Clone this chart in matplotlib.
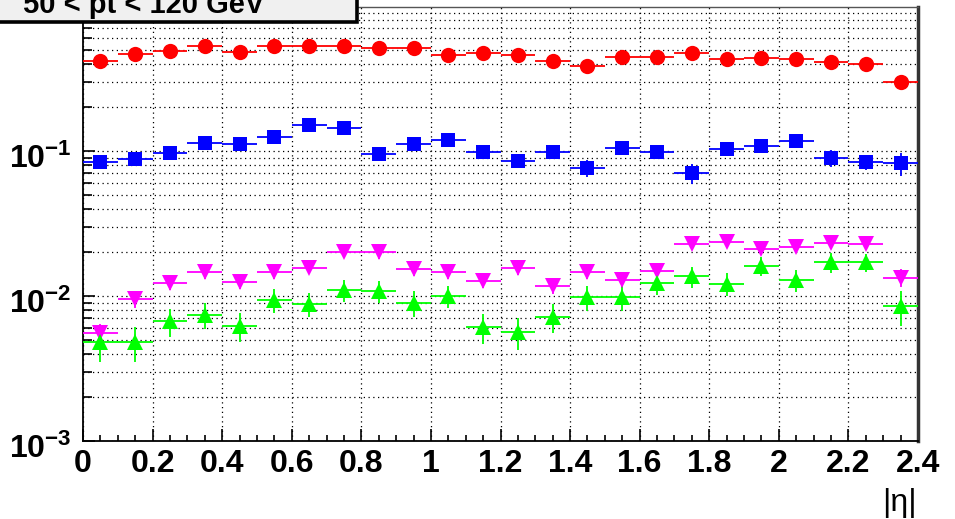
import matplotlib
matplotlib.use("Agg")
import matplotlib.pyplot as plt
import matplotlib.transforms as mtransforms
from matplotlib.patches import Rectangle
from matplotlib.ticker import LogLocator, NullFormatter, FixedLocator, MultipleLocator
import numpy as np

plt.rcParams['font.family'] = ['Liberation Sans', 'DejaVu Sans']
plt.rcParams['mathtext.fontset'] = 'custom'
plt.rcParams['mathtext.bf'] = 'Liberation Sans:bold'
plt.rcParams['mathtext.rm'] = 'Liberation Sans'

# ---- data ----
eta_centers = [0.05, 0.15, 0.25, 0.35, 0.45, 0.55, 0.65, 0.75, 0.85, 0.95,
               1.05, 1.15, 1.25, 1.35, 1.45, 1.55, 1.65, 1.75, 1.85, 1.95,
               2.05, 2.15, 2.25, 2.35]
bin_half_width = 0.05

red_vals = [0.418, 0.467, 0.492, 0.532, 0.484, 0.532, 0.532, 0.527, 0.511, 0.516,
            0.459, 0.476, 0.459, 0.418, 0.386, 0.443, 0.447, 0.472, 0.429, 0.440,
            0.431, 0.413, 0.396, 0.298]
red_err = [0.010, 0.010, 0.010, 0.011, 0.010, 0.011, 0.011, 0.011, 0.010, 0.010,
           0.010, 0.010, 0.010, 0.010, 0.010, 0.010, 0.010, 0.010, 0.010, 0.010,
           0.010, 0.010, 0.010, 0.010]

blue_vals = [0.0843, 0.0881, 0.0969, 0.114, 0.112, 0.124, 0.151, 0.143, 0.0958, 0.112,
             0.119, 0.0989, 0.0853, 0.0989, 0.0760, 0.105, 0.0985, 0.0702, 0.103, 0.108,
             0.118, 0.0891, 0.0843, 0.0823]
blue_err = [0.006, 0.006, 0.007, 0.008, 0.008, 0.009, 0.010, 0.010, 0.007, 0.008,
            0.008, 0.008, 0.008, 0.008, 0.010, 0.008, 0.008, 0.011, 0.008, 0.009,
            0.009, 0.012, 0.010, 0.015]

magenta_vals = [0.00558, 0.00953, 0.01223, 0.01464, 0.01255, 0.01464, 0.01567, 0.02021, 0.02001, 0.01536,
                0.01456, 0.01268, 0.01552, 0.01172, 0.01464, 0.01283, 0.01487, 0.02284, 0.02345, 0.02110,
                0.02167, 0.02332, 0.02284, 0.01337]
magenta_err = [0.0008, 0.0012, 0.0013, 0.0015, 0.0014, 0.0015, 0.0016, 0.0019, 0.0019, 0.0016,
               0.0015, 0.0014, 0.0016, 0.0014, 0.0015, 0.0014, 0.0016, 0.0021, 0.0021, 0.0020,
               0.0020, 0.0021, 0.0021, 0.0019]

green_vals = [0.00480, 0.00480, 0.00669, 0.00743, 0.00624, 0.00938, 0.00881, 0.01100, 0.01082, 0.00899,
              0.01000, 0.00608, 0.00565, 0.00720, 0.00980, 0.00989, 0.01223, 0.01367, 0.01216, 0.01603,
              0.01289, 0.01708, 0.01708, 0.00849]
green_err = [0.00127, 0.00130, 0.00145, 0.00155, 0.00140, 0.00178, 0.00170, 0.00187, 0.00184, 0.00180,
             0.00180, 0.00140, 0.00140, 0.00166, 0.00186, 0.00200, 0.00210, 0.00230, 0.00220, 0.00240,
             0.00220, 0.00260, 0.00240, 0.00230]

x_tick_values = [0, 0.2, 0.4, 0.6, 0.8, 1.0, 1.2, 1.4, 1.6, 1.8, 2.0, 2.2, 2.4]
x_tick_labels = ['0', '0.2', '0.4', '0.6', '0.8', '1', '1.2', '1.4', '1.6', '1.8', '2', '2.2', '2.4']
y_tick_values = [1e-3, 1e-2, 1e-1]
y_tick_labels = [r'$\mathbf{10^{-3}}$', r'$\mathbf{10^{-2}}$', r'$\mathbf{10^{-1}}$']
title_text = '50 < pt < 120 GeV'
x_label = '|η|'

# ---- figure ----
W, H = 955, 519
fig = plt.figure(figsize=(W / 100, H / 100), dpi=100)
ax = fig.add_axes([83 / W, 1 - 441 / H, (918 - 83) / W, (441 - 7) / H])

ax.set_yscale('log')
ax.set_xlim(0, 2.4)
ax.set_ylim(1e-3, 0.984)

series = [
    (red_vals, red_err, 'o', '#ff0000', 11),
    (blue_vals, blue_err, 's', '#0000ff', 10.5),
    (magenta_vals, magenta_err, 'v', '#ff00ff', 11.5),
    (green_vals, green_err, '^', '#00ff00', 11.5),
]
for vals, err, mk, col, ms in series:
    ax.errorbar(eta_centers, vals, yerr=err, xerr=bin_half_width, fmt=mk,
                color=col, ecolor=col, markersize=ms, elinewidth=1.3,
                capsize=0, markeredgewidth=0, zorder=3)

# ticks
ax.xaxis.set_major_locator(FixedLocator(x_tick_values))
ax.set_xticklabels(x_tick_labels)
ax.xaxis.set_minor_locator(MultipleLocator(0.05))
ax.yaxis.set_major_locator(FixedLocator(y_tick_values))
ax.set_yticklabels(y_tick_labels)
ax.yaxis.set_minor_locator(LogLocator(base=10, subs=np.arange(2, 10), numticks=20))
ax.yaxis.set_minor_formatter(NullFormatter())

ax.tick_params(axis='both', which='both', direction='in', top=False, right=False,
               colors='black', width=1.2)
ax.tick_params(axis='x', which='major', length=8.5, pad=5.5, labelsize=23)
ax.tick_params(axis='x', which='minor', length=4.3)
ax.tick_params(axis='y', which='major', length=8.5, pad=8, labelsize=23)
ax.tick_params(axis='y', which='minor', length=6.5)
for lab in ax.get_xticklabels():
    lab.set_fontweight('bold')

# shift y labels slightly down as in reference
offset = mtransforms.ScaledTranslation(0, -5 / 100, fig.dpi_scale_trans)
for lab in ax.get_yticklabels():
    lab.set_transform(lab.get_transform() + offset)

# grid
dot = (0, (1, 2.8))
ax.grid(True, axis='y', which='both', linestyle=dot, color='black', linewidth=0.9)
ax.grid(True, axis='x', which='major', linestyle=dot, color='black', linewidth=0.9)
ax.set_axisbelow(True)

# spines
ax.spines['left'].set_linewidth(1.3)
ax.spines['bottom'].set_linewidth(1.3)
ax.spines['top'].set_linewidth(1.0)
ax.spines['top'].set_color('#555555')
ax.spines['right'].set_linewidth(2.5)
ax.spines['right'].set_color('#333333')

# title box
box = Rectangle((-0.01, 1 - 22 / H), 357 / W + 0.01, 0.2, transform=fig.transFigure,
                facecolor='#f0f0f0', edgecolor='black', linewidth=2.6, zorder=5,
                clip_on=False)
fig.patches.append(box)
fig.text(23 / W, 1 - 13 / H, title_text, fontsize=21, fontweight='bold',
         ha='left', va='baseline', zorder=6)

# x label
fig.text(917 / W, 1 - 511 / H, x_label, fontsize=23, ha='right', va='baseline')

fig.savefig('out.png', dpi=100)
